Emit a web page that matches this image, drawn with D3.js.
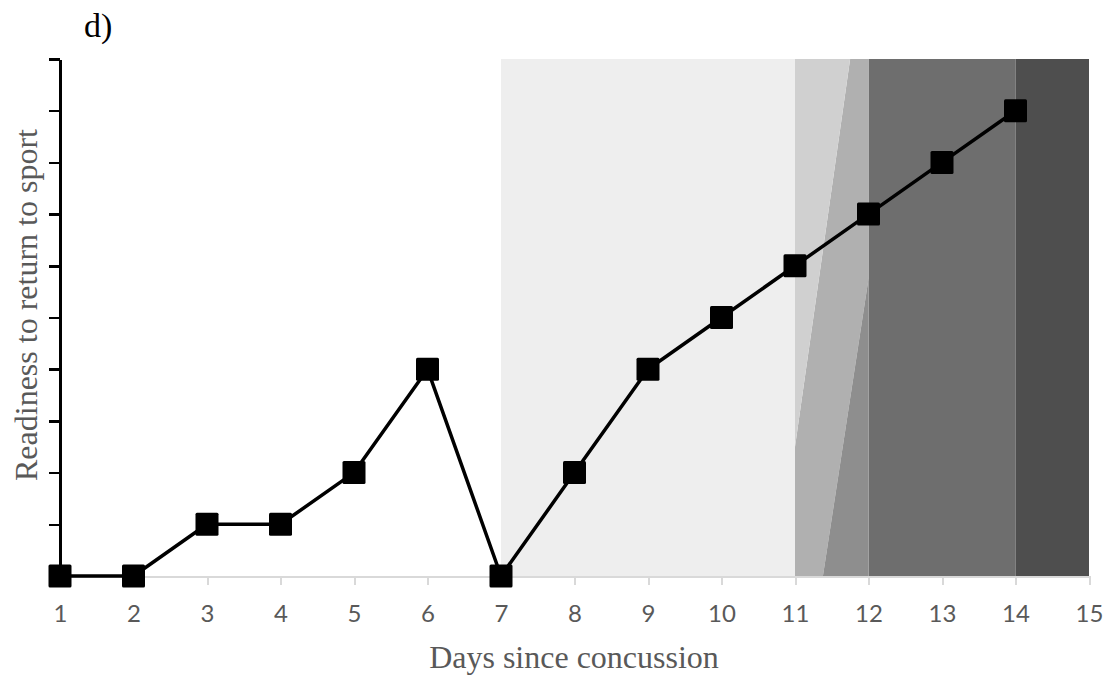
<!DOCTYPE html>
<head>
  <meta charset="utf-8">
    <title>Readiness to return to sport</title>
    <script src="https://d3js.org/d3.v7.min.js"></script>
    <style>
      body { margin: 0; background: #fff; }
      .xaxis path, .xaxis line { stroke: #d9d9d9; stroke-width: 2; shape-rendering: crispEdges; }
      .xaxis text { font-family: Lato, "Open Sans", sans-serif; font-size: 24px; fill: #595959; }
      .yaxis path, .yaxis line { stroke: #000; stroke-width: 2.5; shape-rendering: crispEdges; }
    </style>
  </head>
  <body>
    <script type="text/javascript">

      var w = 1120;
      var h = 681;

      // data
      var days = [1, 2, 3, 4, 5, 6, 7, 8, 9, 10, 11, 12, 13, 14];
      var readiness = [0, 0, 1, 1, 2, 4, 0, 2, 4, 5, 6, 7, 8, 9];
      var xTicks = [1, 2, 3, 4, 5, 6, 7, 8, 9, 10, 11, 12, 13, 14, 15];
      var yTicks = [0, 1, 2, 3, 4, 5, 6, 7, 8, 9, 10];

      // background phases (day ranges + shade)
      var phaseStart = [7, 12, 14];
      var phaseEnd = [11, 14, 15];
      var phaseColor = ["#eeeeee", "#6e6e6e", "#4e4e4e"];

      // the 11-12 transition is split by two slanted edges: [day, readiness]
      var slantA = [[11, 2.5], [11.75, 10]];
      var slantB = [[11.38, 0], [12, 5.75]];

      var svg = d3.select("body")
        .append("svg")
        .attr("width", w)
        .attr("height", h);

      var xScale = d3.scaleLinear().domain([1, 15]).range([60, 1089]);
      var yScale = d3.scaleLinear().domain([0, 10]).range([576, 59]);

      // phase rectangles
      svg.selectAll("rect.phase")
        .data(phaseStart)
        .enter()
        .append("rect")
        .attr("class", "phase")
        .attr("x", function(d) { return xScale(d); })
        .attr("y", yScale(10))
        .attr("width", function(d, i) { return xScale(phaseEnd[i]) - xScale(d); })
        .attr("height", yScale(0) - yScale(10))
        .attr("fill", function(d, i) { return phaseColor[i]; });

      // transition day 11 -> 12, three slanted bands
      var line = d3.line()
        .x(function(d) { return xScale(d[0]); })
        .y(function(d) { return yScale(d[1]); });

      var bandLight = [[11, 0], [11, 10], slantA[1], slantA[0]];
      var bandMid = [[11, 0], slantA[0], slantA[1], [12, 10], [12, slantB[1][1]], slantB[0]];
      var bandDark = [slantB[0], slantB[1], [12, 0]];

      svg.append("path").attr("d", line(bandMid) + "Z").attr("fill", "#b0b0b0");
      svg.append("path").attr("d", line(bandLight) + "Z").attr("fill", "#d0d0d0");
      svg.append("path").attr("d", line(bandDark) + "Z").attr("fill", "#8e8e8e");

      // x axis
      var xAxis = d3.axisBottom(xScale)
        .tickValues(xTicks)
        .tickSize(9)
        .tickPadding(20)
        .tickSizeOuter(0);

      svg.append("g")
        .attr("class", "xaxis")
        .attr("transform", "translate(0," + yScale(0) + ")")
        .call(xAxis);

      // y axis (no labels)
      var yAxis = d3.axisLeft(yScale)
        .tickValues(yTicks)
        .tickSize(11)
        .tickSizeOuter(0)
        .tickFormat("");

      svg.append("g")
        .attr("class", "yaxis")
        .attr("transform", "translate(" + xScale(1) + ",0)")
        .call(yAxis);

      // series line
      svg.append("path")
        .datum(days)
        .attr("fill", "none")
        .attr("stroke", "#000")
        .attr("stroke-width", 3.5)
        .attr("stroke-linejoin", "round")
        .attr("d", d3.line()
          .x(function(d) { return xScale(d); })
          .y(function(d, i) { return yScale(readiness[i]); }));

      // square markers
      var m = 23;
      svg.selectAll("rect.marker")
        .data(days)
        .enter()
        .append("rect")
        .attr("class", "marker")
        .attr("x", function(d) { return xScale(d) - m / 2; })
        .attr("y", function(d, i) { return yScale(readiness[i]) - m / 2; })
        .attr("width", m)
        .attr("height", m)
        .attr("rx", 1.5)
        .attr("fill", "#000");

      // labels
      svg.append("text")
        .text("d)")
        .attr("x", 84)
        .attr("y", 37)
        .attr("font-family", "'Liberation Serif', serif")
        .attr("font-size", "34px")
        .attr("fill", "#000");

      svg.append("text")
        .text("Days since concussion")
        .attr("x", 574)
        .attr("y", 668)
        .attr("text-anchor", "middle")
        .attr("font-family", "'Liberation Serif', serif")
        .attr("font-size", "32px")
        .attr("fill", "#595959");

      svg.append("text")
        .text("Readiness to return to sport")
        .attr("transform", "translate(37,305) rotate(-90)")
        .attr("text-anchor", "middle")
        .attr("font-family", "'Liberation Serif', serif")
        .attr("font-size", "32px")
        .attr("fill", "#595959");

    </script>
  </body>
</html>
